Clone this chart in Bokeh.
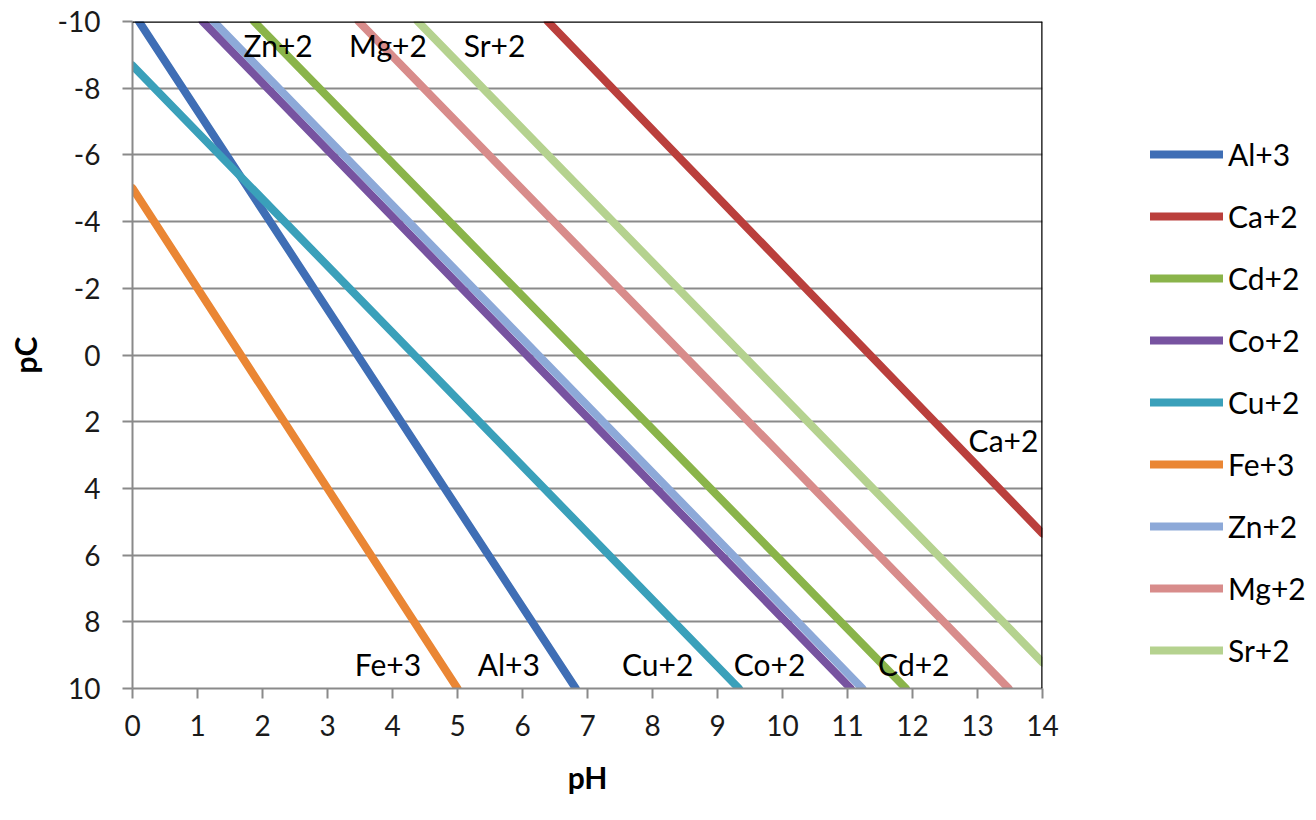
from bokeh.plotting import figure
from bokeh.models import Range1d, FixedTicker, Legend, LegendItem, Span, ColumnDataSource
from bokeh.embed import file_html
from bokeh.resources import INLINE
from bokeh.core.properties import value

ions = ["Al+3", "Ca+2", "Cd+2", "Co+2", "Cu+2", "Fe+3", "Zn+2", "Mg+2", "Sr+2"]
ph_start = [0.10, 6.39, 1.87, 1.08, 0.00, 0.00, 1.25, 3.48, 4.39]
pc_start = [-10.0, -10.0, -10.0, -10.0, -8.68, -5.0, -10.0, -10.0, -10.0]
ph_end = [6.82, 14.0, 11.90, 11.05, 9.33, 5.00, 11.23, 13.48, 14.0]
pc_end = [10.0, 5.35, 10.0, 10.0, 10.0, 10.0, 10.0, 10.0, 9.22]
colors = ["#3F6EB5", "#BA3F3C", "#8AB44A", "#7753A0", "#3AA0BA",
          "#EA8634", "#8DA9D8", "#D88C8B", "#B5D28F"]

# In-plot text labels
label_text = ["Zn+2", "Mg+2", "Sr+2", "Ca+2", "Fe+3", "Al+3", "Cu+2", "Co+2", "Cd+2"]
label_ph = [2.24, 3.93, 5.57, 13.40, 3.93, 5.79, 8.08, 9.80, 12.02]
label_pc = [-9.31, -9.31, -9.31, 2.56, 9.28, 9.28, 9.28, 9.28, 9.28]

x_ticks = list(range(0, 15))
y_ticks = list(range(-10, 11, 2))

FONT = "Lato"
GRID = "#8A8A8A"

p = figure(width=1300, height=804, frame_width=910, frame_height=667,
           output_backend="svg", toolbar_location=None,
           x_range=Range1d(0, 14), y_range=Range1d(10, -10),
           min_border_left=132, min_border_right=258, min_border_top=21, min_border_bottom=116)
p.outline_line_color = None
p.background_fill_color = "white"
p.border_fill_color = "white"

p.xgrid.grid_line_color = None
p.ygrid.grid_line_color = GRID
p.ygrid.grid_line_width = 2
p.ygrid.ticker = FixedTicker(ticks=y_ticks)

for ax, ticks in ((p.xaxis, x_ticks), (p.yaxis, y_ticks)):
    ax.ticker = FixedTicker(ticks=ticks)
    ax.major_label_overrides = {t: str(t) for t in ticks}
    ax.axis_line_color = GRID
    ax.axis_line_width = 2
    ax.major_tick_line_color = GRID
    ax.major_tick_line_width = 2
    ax.major_tick_out = 10
    ax.major_tick_in = 0
    ax.minor_tick_line_color = None
    ax.major_label_text_font = FONT
    ax.major_label_text_font_size = "28px"
    ax.major_label_text_color = "#1a1a1a"
    ax.axis_label_text_font = FONT
    ax.axis_label_text_font_size = "30px"
    ax.axis_label_text_font_style = "bold"
    ax.axis_label_text_color = "black"

p.xaxis.axis_label = "pH"
p.yaxis.axis_label = "pC"
p.xaxis.major_label_standoff = 16
p.yaxis.major_label_standoff = 22
p.xaxis.axis_label_standoff = 20
p.yaxis.axis_label_standoff = 12

# black top/right border
p.add_layout(Span(location=14, dimension="height", line_color="black", line_width=2.5))
p.add_layout(Span(location=-10, dimension="width", line_color="black", line_width=2.5))

items = []
for i, name in enumerate(ions):
    r = p.line([ph_start[i], ph_end[i]], [pc_start[i], pc_end[i]],
               line_color=colors[i], line_width=8, line_cap="round")
    items.append(LegendItem(label=name, renderers=[r]))

src = ColumnDataSource(dict(x=label_ph, y=label_pc, t=label_text))
p.text(x="x", y="y", text="t", source=src, text_font=value(FONT), text_font_size="30px",
       text_align="center", text_baseline="middle", text_color="black")

legend = Legend(items=items, location=(108, 20), orientation="vertical",
                glyph_width=73, glyph_height=30, label_height=30, spacing=26,
                label_standoff=5, padding=0, margin=0,
                border_line_color=None, background_fill_alpha=0,
                label_text_font=FONT, label_text_font_size="30px", label_text_color="black")
p.add_layout(legend, "right")

open("out.html", "w").write(file_html(p, INLINE))
